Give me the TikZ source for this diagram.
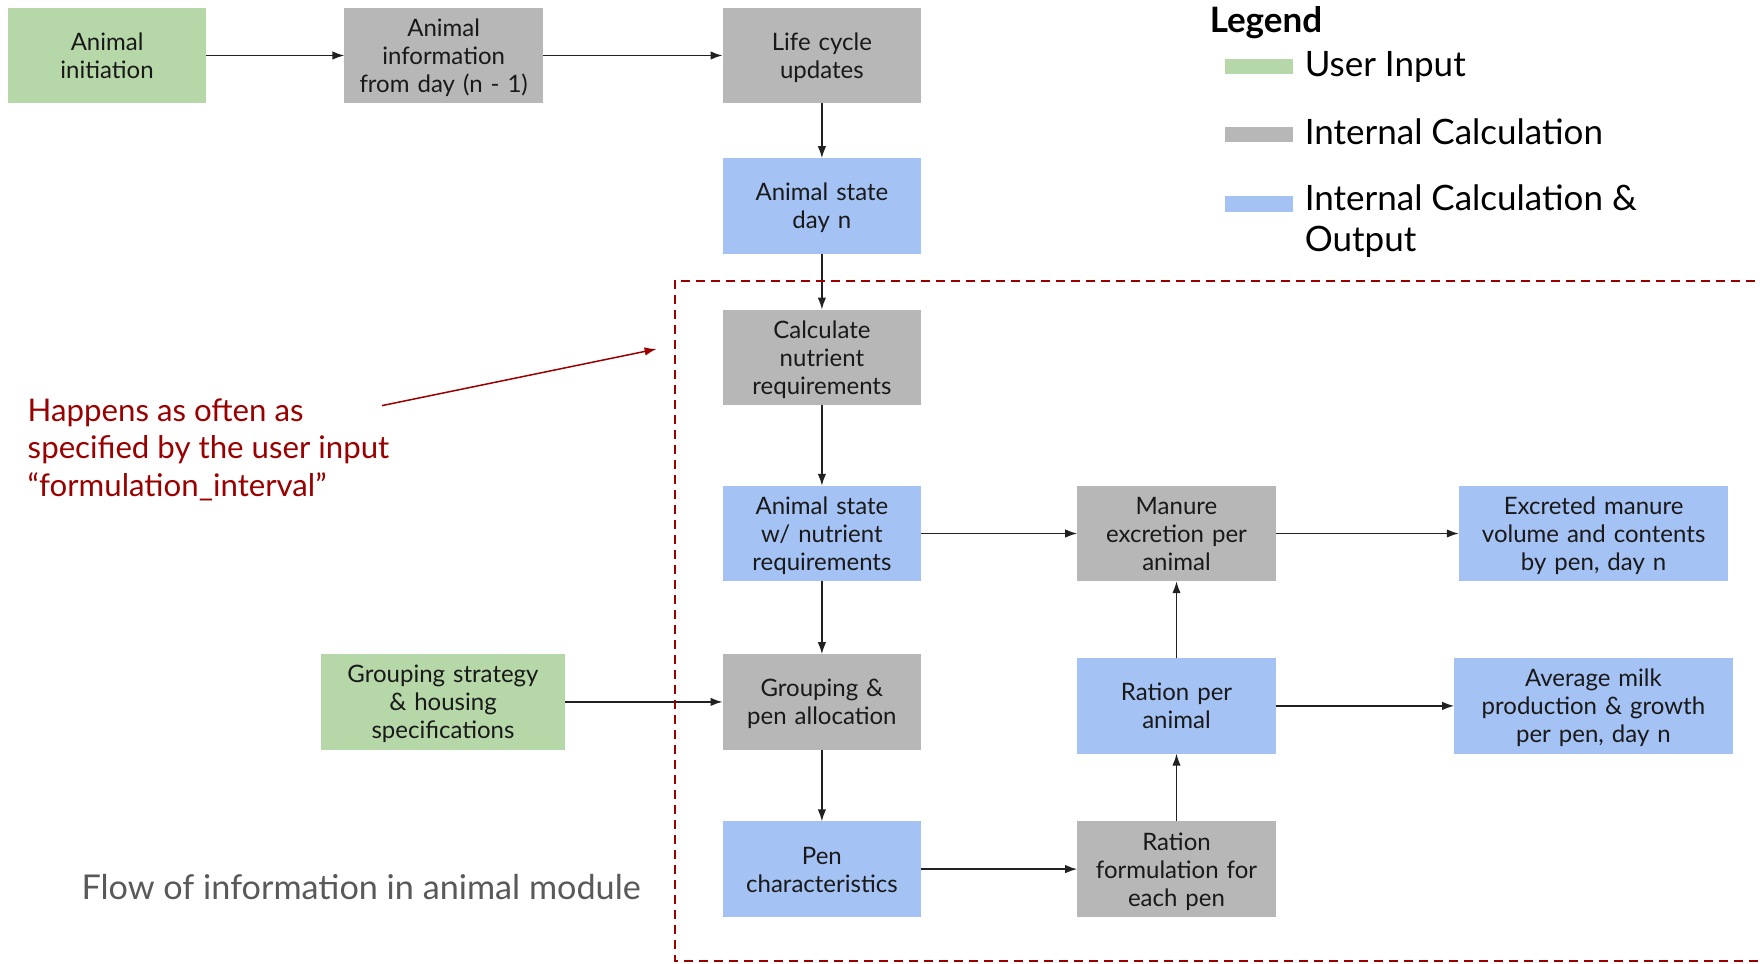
\documentclass[tikz,border=0pt]{standalone}
\usepackage{fontspec}
\setmainfont{Lato}
\usetikzlibrary{arrows.meta,positioning}

\definecolor{inputgreen}{HTML}{B6D7A8}
\definecolor{calcgray}{HTML}{B7B7B7}
\definecolor{outblue}{HTML}{A4C2F4}
\definecolor{loopred}{HTML}{990000}
\definecolor{titlegray}{HTML}{595959}

\begin{document}
\begin{tikzpicture}[
    node distance=36pt,
    >={Latex[length=6pt,width=4.2pt]},
    line width=0.75pt,
    every node/.style={font=\fontsize{12}{14}\selectfont},
    box/.style={
        rectangle,
        align=center,
        text width=94pt,
        minimum width=99.3pt,
        minimum height=47.7pt,
        inner sep=2pt,
        outer sep=0pt,
        text=black!90,
        execute at begin node={\rule{0pt}{11.5pt}},
        execute at end node={\rule[-2.5pt]{0pt}{2.5pt}}
    },
    userbox/.style={box, fill=inputgreen},
    calcbox/.style={box, fill=calcgray},
    outbox/.style={box, fill=outblue},
    swatch/.style={rectangle, minimum width=34.25pt, minimum height=7.5pt, inner sep=0pt, outer sep=0pt},
    legendtext/.style={font=\fontsize{17.5}{20.2}\selectfont, align=left, inner sep=0pt},
    flow/.style={->, draw=black!87}
]
\useasboundingbox (0,0) rectangle (880pt,-481.5pt);

% main chain
\node[userbox, anchor=north west] (init) at (3.9pt,-3.9pt) {Animal\\ initiation};
\node[calcbox, right=69pt of init] (info) {Animal\\ information\\ from day (n - 1)};
\node[calcbox, right=89.8pt of info] (life) {Life cycle\\ updates};
\node[outbox, below=27.5pt of life] (state) {Animal state\\ day n};
\node[calcbox, below=28pt of state] (calc) {Calculate\\ nutrient\\ requirements};
\node[outbox, below=40.4pt of calc] (statenut) {Animal state\\ w/ nutrient\\ requirements};
\node[calcbox, below=36.5pt of statenut] (group) {Grouping \&\\ pen allocation};
\node[outbox, below=35.9pt of group] (pen) {Pen\\ characteristics};
\node[userbox, left=78.6pt of group, text width=117pt, minimum width=122.4pt] (strategy) {Grouping strategy\\ \& housing\\ specifications};

% ration and manure
\node[calcbox, right=78pt of statenut] (manure) {Manure\\ excretion per\\ animal};
\node[outbox, right=78pt of group, yshift=-2pt] (ration) {Ration per\\ animal};
\node[calcbox, right=78pt of pen] (formul) {Ration\\ formulation for\\ each pen};
\node[outbox, right=91.5pt of manure, text width=130pt, minimum width=134.8pt] (excreted) {Excreted manure\\ volume and contents\\ by pen, day n};
\node[outbox, right=89.2pt of ration, text width=134pt, minimum width=139.2pt] (milk) {Average milk\\ production \& growth\\ per pen, day n};

\draw[flow] (init) -- (info);
\draw[flow] (info) -- (life);
\draw[flow] (life) -- (state);
\draw[flow] (state) -- (calc);
\draw[flow] (calc) -- (statenut);
\draw[flow] (statenut) -- (group);
\draw[flow] (group) -- (pen);
\draw[flow] (strategy) -- (group);
\draw[flow] (statenut) -- (manure);
\draw[flow] (manure) -- (excreted);
\draw[flow] (pen) -- (formul);
\draw[flow] (formul) -- (ration);
\draw[flow] (ration) -- (manure);
\draw[flow] (ration) -- (milk);

% formulation loop
\draw[loopred, line width=1pt, dash pattern=on 4.5pt off 3pt]
    (885pt,-140.3pt) -- (337.3pt,-140.3pt) -- (337.3pt,-480.4pt) -- (885pt,-480.4pt);
\node[anchor=north west, align=left, text=loopred, font=\fontsize{15.6}{18.8}\selectfont, inner sep=0pt] (note) at (13.5pt,-198.8pt)
    {Happens as often as\\ specified by the user input\\ “formulation\_interval”};
\coordinate (notetip) at (328.3pt,-174.5pt);
\draw[->, loopred] ([shift={(-4pt,-4pt)}]note.north east) -- (notetip);

% legend
\node[anchor=west, inner sep=0pt, font=\bfseries\fontsize{17.5}{20}\selectfont] (legend) at (604.5pt,-11.5pt) {Legend};
\node[swatch, fill=inputgreen, anchor=west] (swuser) at (612.25pt,-33.4pt) {};
\node[swatch, fill=calcgray, below=26.5pt of swuser] (swcalc) {};
\node[swatch, fill=outblue, below=27pt of swcalc, minimum height=8pt] (swout) {};
\node[legendtext, right=5.5pt of swuser] (lbuser) {User Input};
\node[legendtext, right=5.5pt of swcalc, yshift=1.5pt] (lbcalc) {Internal Calculation};
\node[legendtext, anchor=north west] (lbout) at ([xshift=5.5pt, yshift=10pt]swout.east) {Internal Calculation \&\\ Output};

\node[anchor=west, text=titlegray, font=\fontsize{17.1}{20}\selectfont, inner sep=0pt] (title) at (40.4pt,-443.4pt) {Flow of information in animal module};

\end{tikzpicture}
\end{document}
